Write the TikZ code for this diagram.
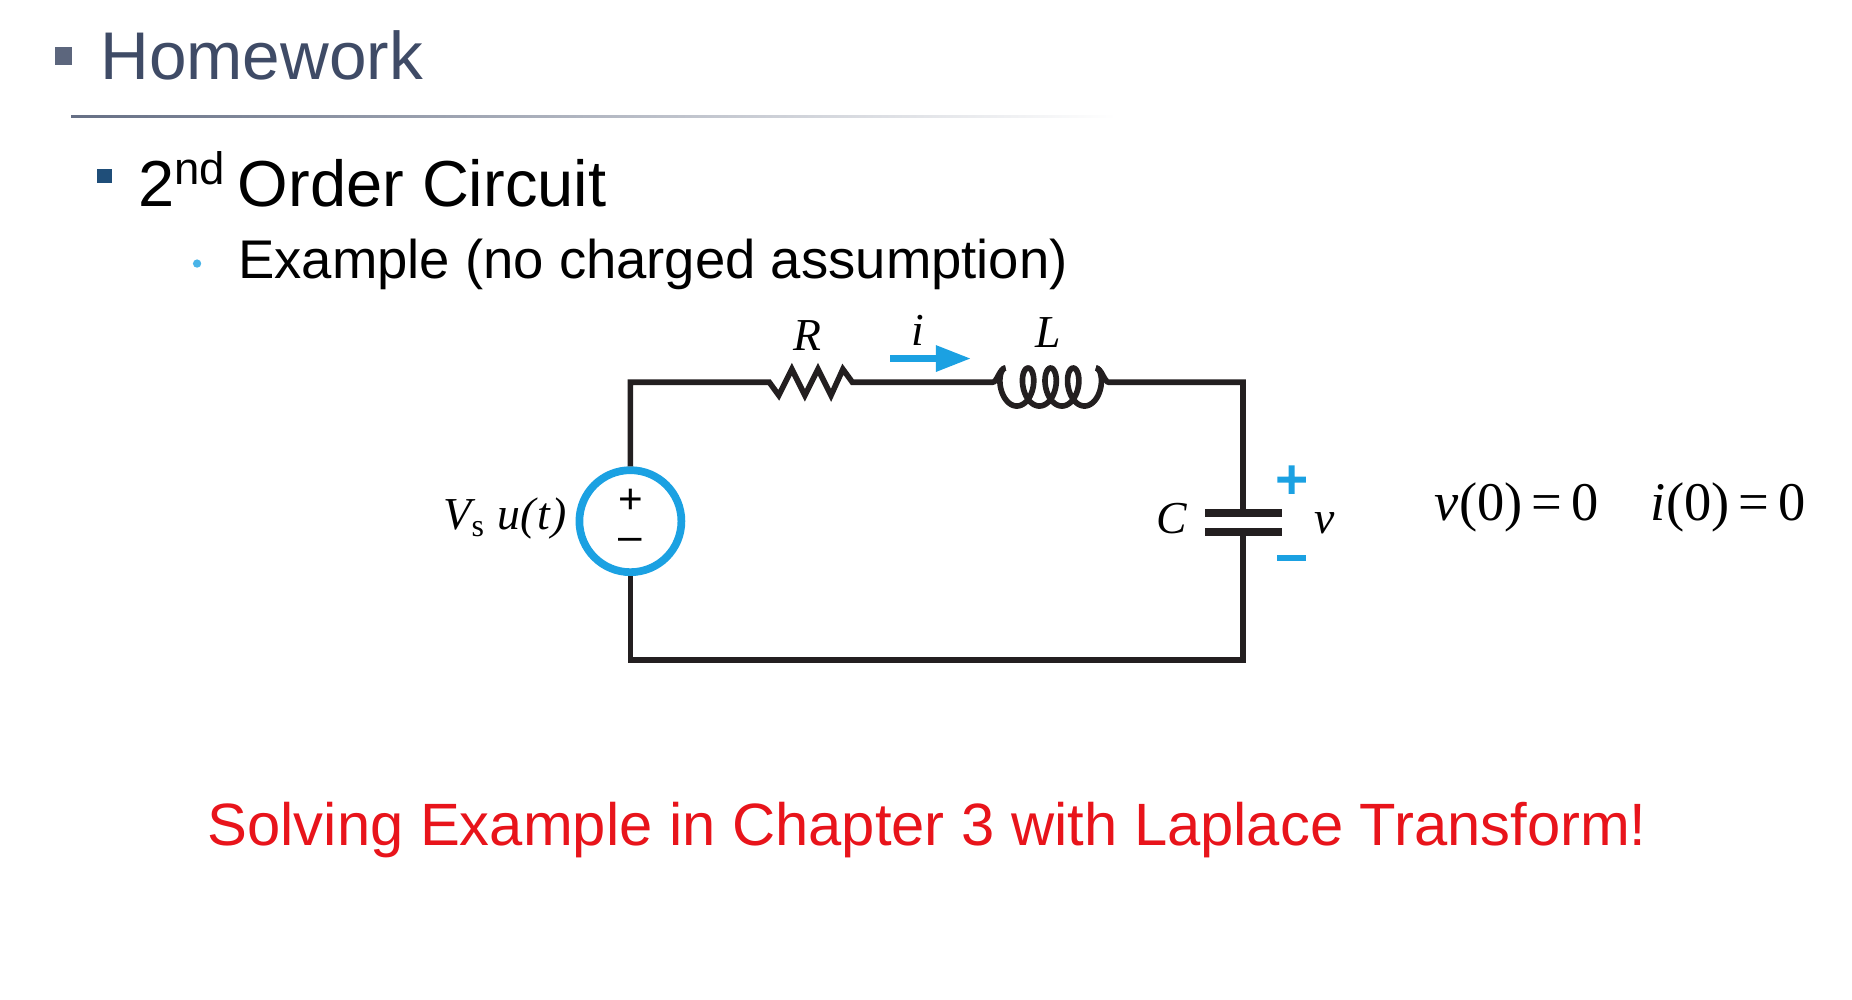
\documentclass[tikz,border=0pt]{standalone}
\usepackage{fontspec}
\setmainfont{Liberation Sans}
\newfontfamily\tms{Liberation Serif}
\usetikzlibrary{arrows.meta,calc}
\definecolor{slate}{HTML}{3F4B66}
\definecolor{navy}{HTML}{1F4E79}
\definecolor{lblue}{HTML}{1BA1E2}
\definecolor{bred}{HTML}{E8141B}
\definecolor{wire}{HTML}{231F20}
\tikzset{wirestyle/.style={wire,line width=1.6pt,line join=miter},
 mlabel/.style={font=\tms\itshape\fontsize{13}{13}\selectfont,inner sep=0pt},
 eqlabel/.style={font=\tms\fontsize{15.5}{16}\selectfont,inner sep=0pt,anchor=west}}
\begin{document}
\begin{tikzpicture}[x=0.01187cm,y=-0.01187cm]
\useasboundingbox (0,0) rectangle (1560,842);
% header
\fill[slate!85] (46,40) rectangle (61,55);
\node[anchor=west,inner sep=0pt,text=slate,font=\fontsize{19.2}{20}\selectfont] (hw) at (84,47) {Homework};
\shade[left color=slate!80,right color=white] (60,97.3) rectangle (940,98.7);
\fill[navy] (82,142) rectangle (94,154);
\node[anchor=west,inner sep=0pt,font=\fontsize{18.5}{20}\selectfont] (oc) at (116,151) {2\textsuperscript{nd}\,Order Circuit};
\fill[lblue!80] (166,222) circle (3.5);
\node[anchor=west,inner sep=0pt,font=\fontsize{15.5}{17}\selectfont] (ex) at (200,223) {Example (no charged assumption)};
% circuit
\coordinate (tl) at (531,322); \coordinate (tr) at (1047,322);
\coordinate (bl) at (531,556); \coordinate (br) at (1047,556);
\node[circle,draw=lblue,line width=2.2pt,inner sep=0pt,minimum size=1.02cm] (src) at (531,439) {};
\draw[wirestyle] (src.north) -- (tl) -- (648,322) -- (656,333) -- (667,311) -- (678,333) -- (689,311) -- (700,333) -- (710,311) -- (718,322) -- (836,322)
  .. controls (840,322) and (842,310) .. (847,310);
\draw[wirestyle] plot[domain=0:4,samples=240,variable=\u] ({847+19*\u-9*sin(360*\u)},{326-16*cos(360*\u)});
\draw[wirestyle] (923,310) .. controls (928,310) and (930,322) .. (934,322) -- (tr) -- (1047,432);
\draw[wirestyle] (1047,448) -- (br) -- (bl) -- (src.south);
\draw[wire,line width=2.4pt] (1015,432) -- (1080,432) (1015,448) -- (1080,448);
\node[font=\fontsize{12}{12}\selectfont,inner sep=0pt] (plus) at (531,422) {+};
\node[font=\fontsize{12}{12}\selectfont,inner sep=0pt] (minus) at (531,459) {\textendash};
\node[mlabel,anchor=east] (vs) at (478,437) {V\textsubscript{\upshape s} u(\kern0.5pt t\kern0.5pt)};
\node[mlabel] (R) at (680,283) {R};
\node[mlabel] (I) at (773,278) {i};
\node[mlabel] (L) at (883,280) {L};
\node[mlabel] (C) at (987,437) {C};
\node[mlabel] (V) at (1116,441) {v};
\coordinate (a1) at (750,302); \coordinate (a2) at (818,302);
\draw[lblue,line width=2pt,-{Triangle[length=10pt,width=7pt]}] (a1) -- (a2);
\fill[lblue] (1076,401.5) rectangle (1100,406.5) (1085.5,392) rectangle (1090.5,416);
\fill[lblue] (1076,467.5) rectangle (1100,472.5);
\node[eqlabel] (v0) at (1208,427) {\itshape v\upshape(0)\,=\,0};
\node[eqlabel] (i0) at (1390,427) {\itshape i\upshape(0)\,=\,0};
\node[inner sep=0pt,text=bred,font=\fontsize{17}{19}\selectfont] (red) at (781,699) {Solving Example in Chapter 3 with Laplace Transform!};
\end{tikzpicture}
\end{document}
